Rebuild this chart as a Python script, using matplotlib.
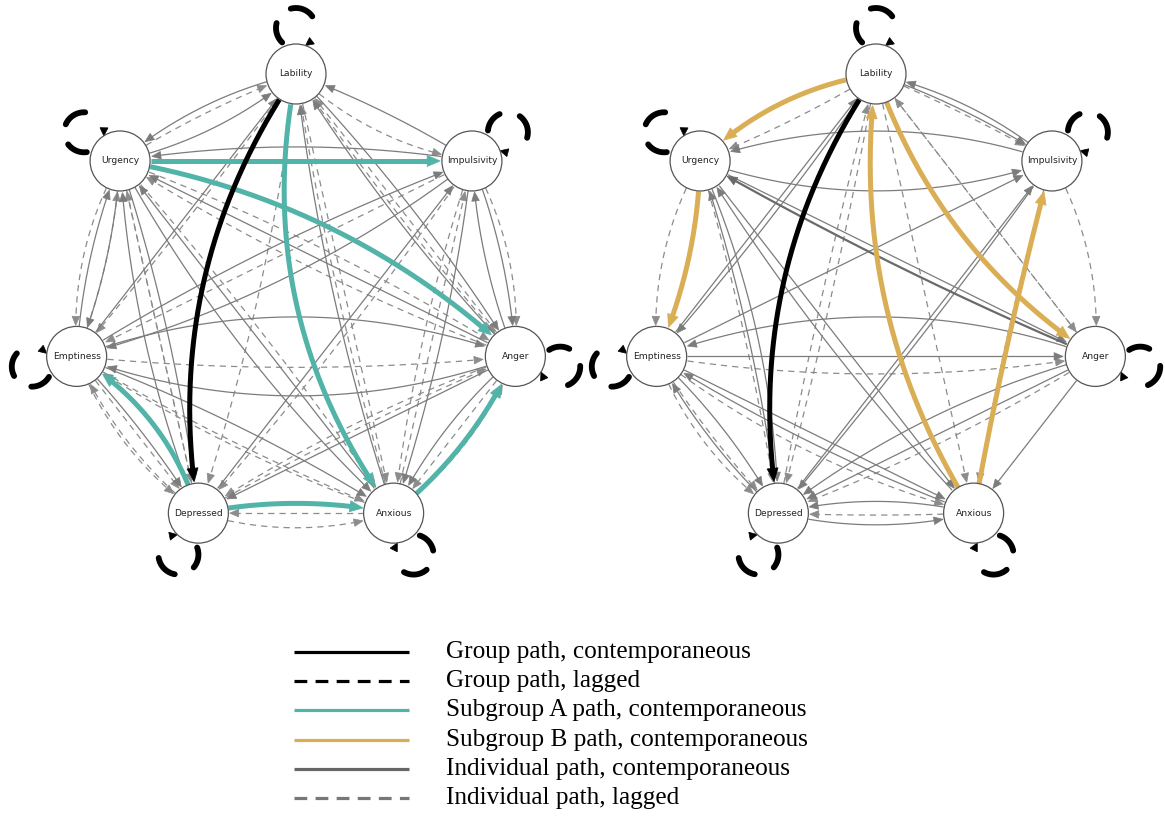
import numpy as np
import matplotlib.pyplot as plt
from matplotlib.patches import Circle, Polygon

nodes = ['Lability', 'Impulsivity', 'Anger', 'Anxious', 'Depressed', 'Emptiness', 'Urgency']
L, I, A, X, D, E, U = range(7)

# edges are (from, to, curvature); curvature > 0 bends to the left of travel
group_contemp = [(L, D, -0.20)]
group_lagged_self = [L, I, A, X, D, E, U]

left_subgroup = [(U, I, 0.0), (U, A, 0.15), (L, X, -0.22), (D, E, -0.19),
                 (D, X, 0.10), (X, A, -0.12)]
left_ind_contemp = [
    (L, U, -0.12), (U, L, -0.12), (I, L, -0.05), (I, U, -0.08), (A, L, 0.05),
    (X, L, 0.05), (E, L, 0.0), (E, I, 0.05), (D, I, 0.0), (U, E, 0.08),
    (E, U, 0.08), (A, E, 0.18), (E, A, 0.18), (E, X, 0.05), (E, D, 0.05),
    (A, X, -0.10), (A, D, 0.0), (I, X, 0.05), (I, A, 0.08), (A, I, 0.08),
    (U, X, -0.08), (L, A, 0.05), (D, U, 0.08), (A, U, 0.0), (X, U, 0.0),
    (U, D, 0.05), (I, E, 0.10),
]
left_ind_lagged = [
    (L, I, -0.15), (L, X, 0.0), (L, D, 0.05), (L, E, 0.02), (L, A, -0.03),
    (U, L, 0.05), (I, E, 0.0), (I, D, 0.03), (I, A, 0.15), (I, X, -0.05),
    (U, E, -0.15), (U, D, 0.0), (U, X, 0.03), (U, A, 0.05), (E, D, -0.15),
    (D, E, 0.12), (E, D, 0.0), (E, X, -0.04), (E, A, -0.05), (D, X, -0.15),
    (X, D, 0.0), (A, X, 0.0), (D, A, 0.03), (X, I, 0.0), (A, L, 0.0),
    (X, L, 0.03), (E, U, -0.08), (D, U, 0.0), (X, E, 0.06), (A, U, 0.05),
    (X, A, -0.14), (A, D, -0.06),
]

right_subgroup = [(L, U, -0.16), (U, E, 0.10), (X, L, 0.18), (L, A, -0.17),
                  (X, I, 0.02)]
right_ind_contemp = [
    (U, I, -0.17), (I, U, -0.17), (U, A, 0.0), (U, X, 0.0), (X, U, 0.05),
    (D, U, -0.05), (E, A, 0.0), (A, E, -0.18), (X, E, 0.05), (D, E, 0.08),
    (E, D, 0.08), (E, X, 0.0), (L, I, 0.06), (I, L, -0.12), (E, I, 0.0),
    (D, I, 0.0), (A, D, 0.0), (A, X, 0.0), (D, X, -0.12), (X, D, -0.12),
    (E, L, 0.0), (I, D, 0.02), (A, D, -0.10), (L, E, 0.03), (U, D, 0.10),
]
right_ind_strong = [(A, U, 0.03)]
right_ind_lagged = [
    (U, E, -0.15), (U, D, 0.03), (E, D, -0.15), (E, D, -0.05), (L, D, 0.02),
    (D, L, 0.02), (L, U, 0.04), (L, I, 0.03), (A, L, 0.0), (L, X, 0.0),
    (I, A, 0.15), (L, A, 0.0), (X, D, 0.02), (A, D, 0.05), (E, X, -0.10),
    (I, X, -0.03), (E, A, -0.08),
]

legend_labels = ['Group path, contemporaneous', 'Group path, lagged',
                 'Subgroup A path, contemporaneous', 'Subgroup B path, contemporaneous',
                 'Individual path, contemporaneous', 'Individual path, lagged']

TEAL = '#52b3a8'
GOLD = '#d9ae55'
GREY = '#7c7c7c'
GREY_DASH = '#8c8c8c'
RNODE = 30.0


def layout(cx, cy, rx=225.0, ry=231.0):
    ang = np.radians(90.0 - np.arange(7) * 360.0 / 7)
    return np.column_stack([cx + rx * np.cos(ang), cy - ry * np.sin(ang)]), -ang


def curve(p0, p1, rad, n=300):
    d = p1 - p0
    ctrl = (p0 + p1) / 2 + rad * np.array([d[1], -d[0]])
    t = np.linspace(0, 1, n)[:, None]
    return (1 - t) ** 2 * p0 + 2 * (1 - t) * t * ctrl + t ** 2 * p1


def arrow_head(ax, tip, back, length, width, color, z):
    u = (tip - back) / np.linalg.norm(tip - back)
    nrm = np.array([-u[1], u[0]])
    base = tip - length * u
    ax.add_patch(Polygon([tip, base + width * nrm, base - width * nrm],
                         closed=True, fc=color, ec=color, lw=0.5, zorder=z))


def edge(ax, pos, e, color, lw, ls='-', head=(9, 3.8), z=2):
    a, b, rad = e
    pts = curve(pos[a], pos[b], rad)
    da = np.linalg.norm(pts - pos[a], axis=1)
    db = np.linalg.norm(pts - pos[b], axis=1)
    tip_i = np.where(db >= RNODE + 1)[0][-1]
    tip = pts[tip_i]
    keep = (da >= RNODE) & (db >= RNODE + 1 + head[0] * 0.7)
    seg = pts[keep]
    ax.plot(seg[:, 0], seg[:, 1], color=color, lw=lw, ls=ls,
            solid_capstyle='butt', dash_capstyle='butt', zorder=z)
    arrow_head(ax, tip, pts[max(tip_i - 8, 0)], head[0], head[1], color, z)


def self_loop(ax, p, psi, dist=46.0, rl=20.0):
    c = p + dist * np.array([np.cos(psi), np.sin(psi)])
    beta = np.arccos((dist ** 2 + rl ** 2 - RNODE ** 2) / (2 * dist * rl))
    phi0 = psi + np.pi + beta
    phi1 = psi + np.pi - beta + 2 * np.pi
    for s0, s1 in [(0.05, 0.25), (0.45, 0.68)]:
        phi = np.linspace(phi0 + s0 * (phi1 - phi0), phi0 + s1 * (phi1 - phi0), 40)
        ax.plot(c[0] + rl * np.cos(phi), c[1] + rl * np.sin(phi), color='black',
                lw=4.2, solid_capstyle='round', zorder=3)
    tip = c + rl * np.array([np.cos(phi1), np.sin(phi1)])
    back = c + rl * np.array([np.cos(phi1 - 0.3), np.sin(phi1 - 0.3)])
    arrow_head(ax, tip, back, 8, 4, 'black', 3)


def panel(ax, cx, cy, contemp, lagged, sub, sub_color, strong=()):
    pos, psi = layout(cx, cy)
    for e in lagged:
        edge(ax, pos, e, GREY_DASH, 0.9, ls=(0, (5, 4)))
    for e in contemp:
        edge(ax, pos, e, GREY, 0.9)
    for e in strong:
        edge(ax, pos, e, '#6a6a6a', 1.6, head=(10, 4.2))
    for e in sub:
        edge(ax, pos, e, sub_color, 3.6, head=(13, 5.5), z=4)
    for e in group_contemp:
        edge(ax, pos, e, 'black', 3.6, head=(13, 5.5), z=4)
    for k in group_lagged_self:
        self_loop(ax, pos[k], psi[k])
    for k, name in enumerate(nodes):
        ax.add_patch(Circle(pos[k], RNODE, fc='white', ec='#555555', lw=0.9, zorder=6))
        ax.text(pos[k][0], pos[k][1], name, ha='center', va='center',
                fontsize=6.6, color='#222222', zorder=7)


fig = plt.figure(figsize=(11.65, 8.19), dpi=100)
ax = fig.add_axes([0, 0, 1, 1])
ax.set_xlim(0, 1165)
ax.set_ylim(819, 0)
ax.axis('off')

panel(ax, 296, 305, left_ind_contemp, left_ind_lagged, left_subgroup, TEAL)
panel(ax, 876, 305, right_ind_contemp, right_ind_lagged, right_subgroup, GOLD,
      strong=right_ind_strong)

# legend
styles = [('black', '-'), ('black', (0, (4, 2.6))), (TEAL, '-'), (GOLD, '-'),
          ('#666666', '-'), ('#777777', (0, (4, 2.6)))]
for k, (lab, (col, ls)) in enumerate(zip(legend_labels, styles)):
    y = 652 + k * 29.2
    ax.plot([294, 409], [y, y], color=col, lw=2.3, ls=ls, solid_capstyle='butt')
    ax.text(446, y, lab, ha='left', va='center', fontsize=18.2,
            family='Liberation Serif', color='black')

fig.savefig('out.png', dpi=100, facecolor='white')
